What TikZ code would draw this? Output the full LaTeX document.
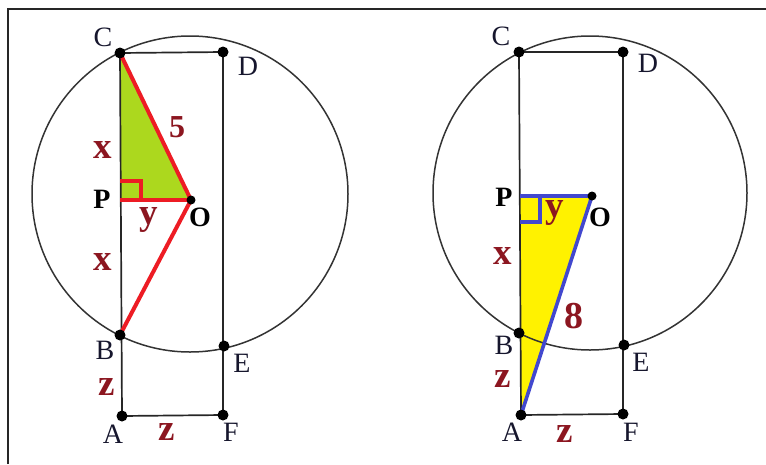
\documentclass[tikz,border=0pt]{standalone}
\usepackage{fontspec}
\setmainfont{Liberation Serif}
\definecolor{varred}{RGB}{140,22,32}
\definecolor{linered}{RGB}{237,28,36}
\definecolor{lineblue}{RGB}{66,72,206}
\definecolor{limefill}{RGB}{172,216,30}
\definecolor{yellowfill}{RGB}{255,242,0}
\definecolor{ptcol}{RGB}{22,22,45}
\begin{document}
\begin{tikzpicture}[x=1pt, y=-1pt,
  frame/.style={line width=2.6pt, black!85},
  seg/.style={line width=1.7pt, black!85},
  ring/.style={line width=1.5pt, black!80},
  redseg/.style={line width=4pt, linered},
  blueseg/.style={line width=3.6pt, lineblue},
  ptlab/.style={text=ptcol, font=\fontsize{28}{28}\selectfont, inner sep=0pt},
  ctrlab/.style={text=black, font=\fontsize{28}{28}\selectfont\bfseries, inner sep=0pt},
  varlab/.style={text=varred, font=\fontsize{37}{37}\selectfont\bfseries, inner sep=0pt},
  numlab/.style={text=varred, font=\fontsize{32}{32}\selectfont\bfseries, inner sep=0pt}]
\useasboundingbox (0,0) rectangle (766,464);
\draw[frame] (8,464) -- (8,9) -- (766,9);

% left figure
\coordinate (C1) at (120,53);
\coordinate (D1) at (223,52);
\coordinate (P1) at (120,200);
\coordinate (O1) at (191,200);
\coordinate (B1) at (120,335);
\coordinate (E1) at (224,346);
\coordinate (A1) at (122,416);
\coordinate (F1) at (223,415);
\coordinate (M1) at (190,194);
\fill[limefill] (C1) -- (P1) -- (O1) -- cycle;
\draw[ring] (M1) circle[radius=158pt];
\draw[seg] (C1) -- (D1) -- (F1) -- (A1) -- cycle;
\draw[redseg] (C1) -- (O1) -- (B1);
\draw[redseg] (P1) -- (O1);
\draw[redseg, line width=3.4pt] (P1) ++(0,-19) -- ++(21,0) -- ++(0,19);
\foreach \p in {C1,D1,B1,E1,A1,F1} \fill (\p) circle[radius=5.5pt];
\fill (O1) circle[radius=4.5pt];
\node[ptlab] (lC1) at (103,37) {C};
\node[ptlab] (lD1) at (248,66) {D};
\node[ctrlab] (lP1) at (102,199) {P};
\node[ctrlab] (lO1) at (200,217) {O};
\node[ptlab] (lB1) at (105,350) {B};
\node[ptlab] (lE1) at (242,363) {E};
\node[ptlab] (lA1) at (113,434) {A};
\node[ptlab] (lF1) at (231,432) {F};
\node[varlab] (x1a) at (103,150) {x};
\node[varlab] (x1b) at (103,262) {x};
\node[varlab] (y1) at (149,220) {y};
\node[varlab] (z1a) at (107,387) {z};
\node[varlab] (z1b) at (167,432) {z};
\node[numlab] (n5) at (177,127) {5};

% right figure
\coordinate (C2) at (519,52);
\coordinate (D2) at (623,52);
\coordinate (P2) at (520,196);
\coordinate (O2) at (592,196);
\coordinate (B2) at (519,333);
\coordinate (E2) at (624,345);
\coordinate (A2) at (521,415);
\coordinate (F2) at (623,414);
\coordinate (M2) at (590,193);
\fill[yellowfill] (P2) -- (O2) -- (A2) -- cycle;
\draw[ring] (M2) circle[radius=157pt];
\draw[seg] (C2) -- (D2) -- (F2) -- (A2) -- cycle;
\draw[blueseg] (P2) -- (O2) -- (A2);
\draw[blueseg, line width=3.2pt] (P2) ++(0,26) -- ++(20,0) -- ++(0,-26);
\foreach \p in {C2,D2,B2,E2,A2,F2} \fill (\p) circle[radius=5.5pt];
\fill (O2) circle[radius=4.5pt];
\node[ptlab] (lC2) at (501,36) {C};
\node[ptlab] (lD2) at (648,63) {D};
\node[ctrlab] (lP2) at (504,197) {P};
\node[ctrlab] (lO2) at (600,217) {O};
\node[ptlab] (lB2) at (504,345) {B};
\node[ptlab] (lE2) at (641,362) {E};
\node[ptlab] (lA2) at (512,432) {A};
\node[ptlab] (lF2) at (631,432) {F};
\node[varlab] (x2) at (503,256) {x};
\node[varlab] (y2) at (555,213) {y};
\node[varlab] (z2a) at (503,379) {z};
\node[varlab] (z2b) at (565,434) {z};
\node[numlab, font=\fontsize{38}{38}\selectfont\bfseries] (n8) at (574,316) {8};
\end{tikzpicture}
\end{document}
